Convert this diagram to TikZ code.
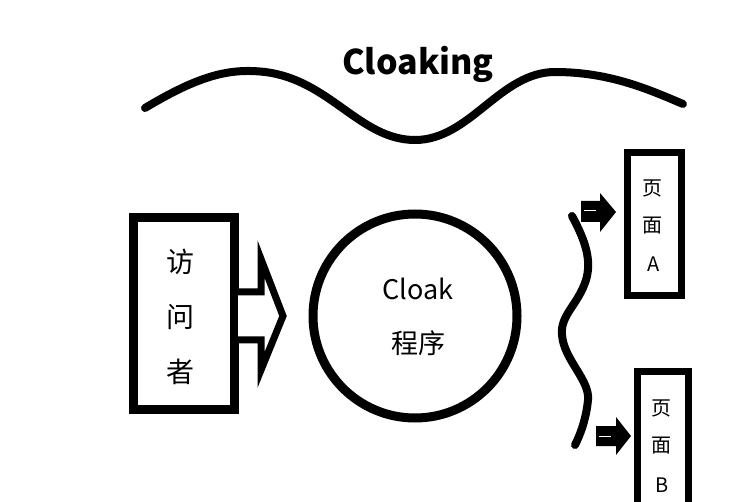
\documentclass[tikz,border=0pt]{standalone}
\usepackage{fontspec}
\setmainfont{Noto Sans CJK SC}
\usetikzlibrary{positioning}
\tikzset{
    wave/.style = {line width = 8pt, line cap = round},
    solid arrow/.style = {fill = black},
    big text/.style = {font = \fontsize{28}{30}\selectfont},
    page text/.style = {font = \fontsize{20}{22}\selectfont},
}
\begin{document}
\begin{tikzpicture}[x = 1pt, y = -1pt]
    \useasboundingbox (0, 0) rectangle (755, 502);

    % title and top wave
    \node [font = \fontsize{34}{36}\selectfont\bfseries] (title) at (418, 64) {Cloaking};
    \draw [wave] (145, 108) .. controls (200, 75) and (230, 68) .. (265, 72)
        .. controls (330, 80) and (360, 140) .. (415, 140)
        .. controls (470, 140) and (500, 72) .. (555, 72)
        .. controls (610, 72) and (650, 90) .. (683, 104);

    % visitor
    \draw [line width = 9pt] (133, 218) rectangle (234, 410);
    \node [big text] (visitor1) at (180, 262) {访};
    \node [big text] (visitor2) at (180, 317) {问};
    \node [big text] (visitor3) at (180, 372) {者};

    % hollow arrow
    \draw [line width = 7pt, fill = white, line join = miter]
        (238, 292) -- (261, 292) -- (261, 259) -- (283, 316) -- (261, 370) -- (261, 340) -- (238, 340);

    % cloak program
    \draw [line width = 9pt] (415, 316) circle (102);
    \node [font = \fontsize{27}{29}\selectfont] (cloak) at (418, 289) {Cloak};
    \node [font = \fontsize{27}{29}\selectfont] (program) at (418, 343) {程序};

    % right wave
    \draw [wave] (572, 216) .. controls (585, 240) and (592, 260) .. (586, 280)
        .. controls (578, 305) and (560, 315) .. (562, 335)
        .. controls (564, 360) and (590, 380) .. (588, 400)
        .. controls (586, 420) and (580, 435) .. (575, 445);

    % page A
    \draw [line width = 7pt] (627, 153) rectangle (681, 296);
    \node [page text] (pageA1) at (652, 188) {页};
    \node [page text] (pageA2) at (652, 226) {面};
    \node [page text] (pageA3) at (654, 264) {A};

    % page B
    \draw [line width = 7pt] (637, 372) rectangle (688, 520);
    \node [page text] (pageB1) at (661, 408) {页};
    \node [page text] (pageB2) at (661, 446) {面};
    \node [page text] (pageB3) at (662, 485) {B};

    % small arrows
    \fill [solid arrow] (581, 201) -- (600, 201) -- (600, 193) -- (616, 212) -- (600, 232) -- (600, 222) -- (581, 222) -- cycle;
    \draw [white, line width = 1pt] (584, 211) -- (596, 211);
    \fill [solid arrow] (596, 426) -- (616, 426) -- (616, 417) -- (631, 436) -- (616, 455) -- (616, 446) -- (596, 446) -- cycle;
    \draw [white, line width = 1pt] (599, 436) -- (611, 436);
\end{tikzpicture}
\end{document}
